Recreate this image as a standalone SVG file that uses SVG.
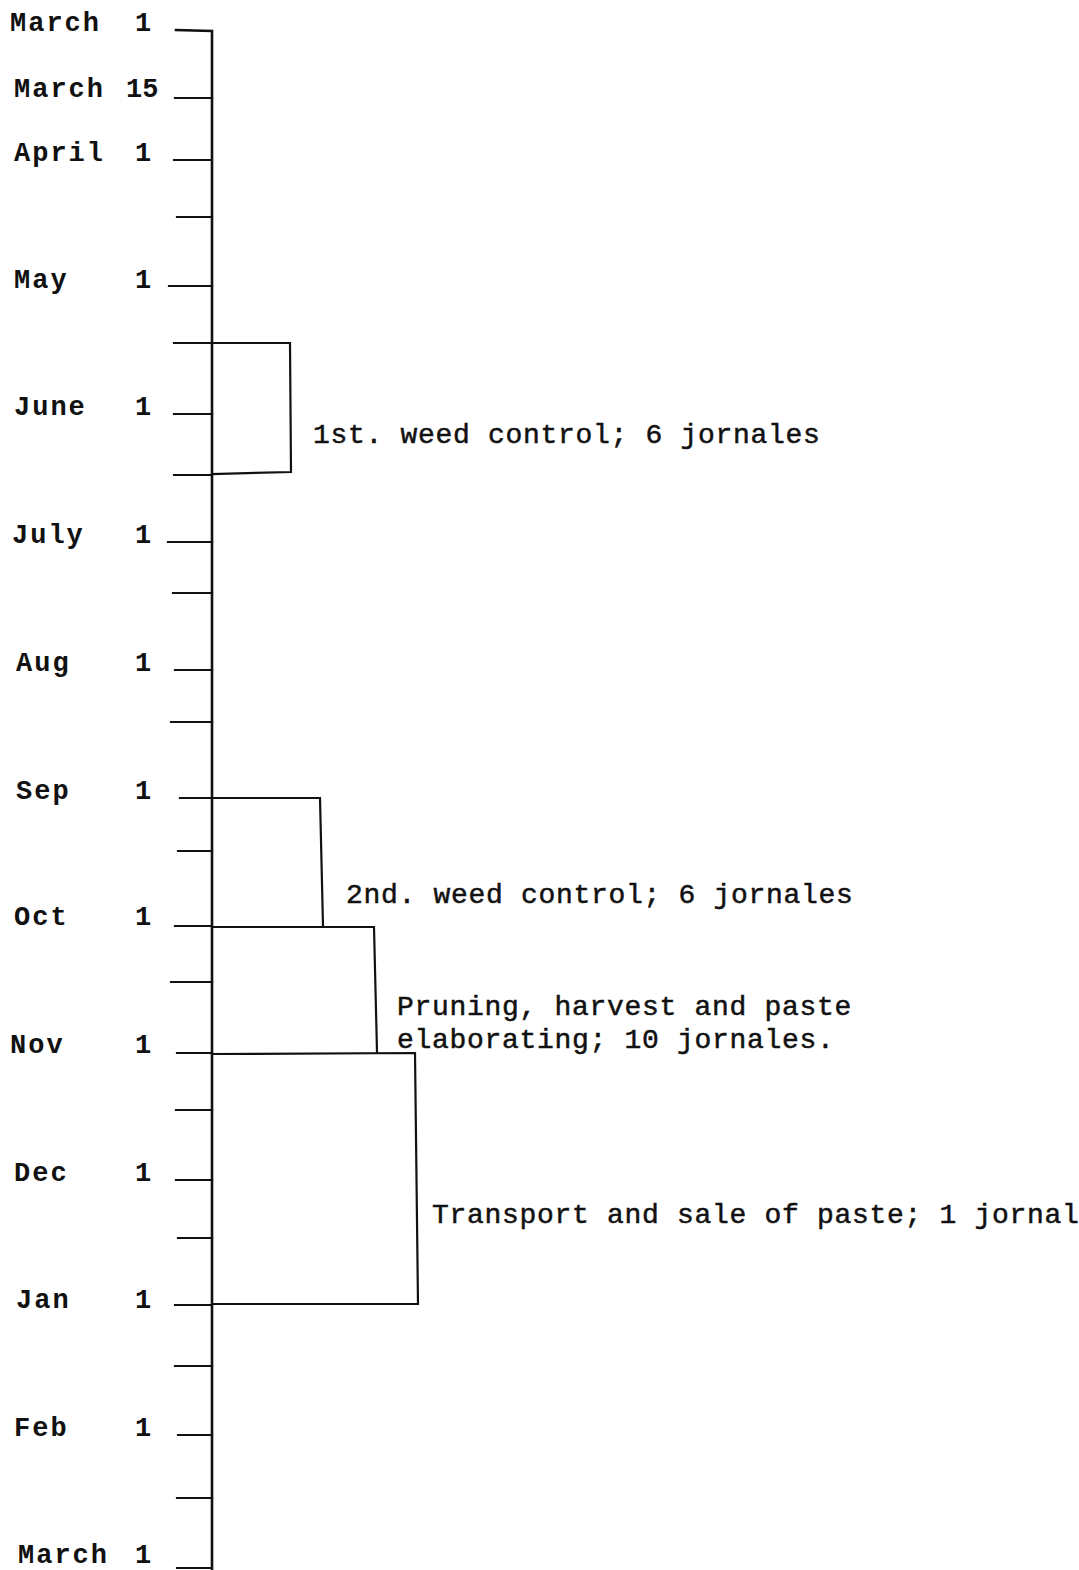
<svg xmlns="http://www.w3.org/2000/svg" width="1079" height="1570" viewBox="0 0 1079 1570">
<style>
.m{font-family:"Liberation Mono","Courier New",monospace;font-size:27px;font-weight:bold;fill:#111;letter-spacing:2px}
.n{font-family:"Liberation Mono","Courier New",monospace;font-size:27px;font-weight:bold;fill:#111;letter-spacing:0px}
.t{font-family:"Liberation Mono","Courier New",monospace;font-size:28px;fill:#111;stroke:#111;stroke-width:0.5;letter-spacing:0.7px}
.ln{stroke:#111;stroke-width:2.2;fill:none;stroke-linecap:square;stroke-linejoin:miter}
</style>
<rect width="1079" height="1570" fill="#fff"/>
<g id="axis">
<path class="ln" d="M176 30 L212 31 L212 1570" style="stroke-width:2.6"/>
</g>
<g id="ticks">
<path class="ln" d="M175 98H212M174 160H212M177 217H212M169 286H212M174 343H212M174 414H212M174 475H212M168 542H212M173 593H212M175 670H212M171 722H212M180 798H212M178 851H212M175 926H212M171 982H212M177 1053H212M176 1110H212M176 1180H212M178 1238H212M175 1305H212M175 1366H212M178 1435H212M177 1498H212M177 1568H212"/>
</g>
<g id="connectors">
<path id="b1" class="ln" d="M212 343H290L291 472L212 474"/>
<path id="b2" class="ln" d="M212 798H320L323 926"/>
<path id="b3" class="ln" d="M212 927H374L377 1052"/>
<path id="b4" class="ln" d="M212 1054L415 1053L418 1304H212"/>
</g>
<g id="labels">
<text class="m" x="10" y="31">March</text><text class="n" x="135" y="31">1</text>
<text class="m" x="14" y="97">March</text><text class="n" x="126" y="97" letter-spacing="-2">15</text>
<text class="m" x="14" y="161">April</text><text class="n" x="135" y="161">1</text>
<text class="m" x="14" y="288">May</text><text class="n" x="135" y="288">1</text>
<text class="m" x="14" y="415">June</text><text class="n" x="135" y="415">1</text>
<text class="m" x="12" y="543">July</text><text class="n" x="135" y="543">1</text>
<text class="m" x="16" y="671">Aug</text><text class="n" x="135" y="671">1</text>
<text class="m" x="16" y="799">Sep</text><text class="n" x="135" y="799">1</text>
<text class="m" x="14" y="925">Oct</text><text class="n" x="135" y="925">1</text>
<text class="m" x="10" y="1053">Nov</text><text class="n" x="135" y="1053">1</text>
<text class="m" x="14" y="1181">Dec</text><text class="n" x="135" y="1181">1</text>
<text class="m" x="16" y="1308">Jan</text><text class="n" x="135" y="1308">1</text>
<text class="m" x="14" y="1436">Feb</text><text class="n" x="135" y="1436">1</text>
<text class="m" x="18" y="1563">March</text><text class="n" x="135" y="1563">1</text>
</g>
<g id="node-weed1"><text class="t" x="313" y="443">1st. weed control; 6 jornales</text></g>
<g id="node-weed2"><text class="t" x="346" y="903">2nd. weed control; 6 jornales</text></g>
<g id="node-pruning"><text class="t" x="397" y="1015">Pruning, harvest and paste</text><text class="t" x="397" y="1048">elaborating; 10 jornales.</text></g>
<g id="node-transport"><text class="t" x="432" y="1223">Transport and sale of paste; 1 jornal</text></g>
</svg>
